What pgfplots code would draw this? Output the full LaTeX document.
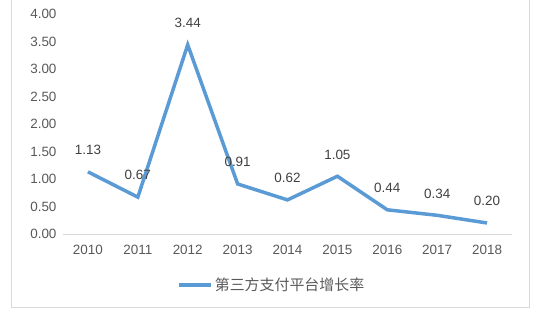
\documentclass[border=0pt]{standalone}
\usepackage{pgfplots}
\pgfplotsset{compat=1.18}
\usepackage{fontspec}
\setmainfont{Liberation Sans}
\newfontfamily\cjk{Noto Sans CJK SC}
\definecolor{lineblue}{HTML}{5B9BD5}
\definecolor{ticktxt}{HTML}{595959}
\definecolor{lbltxt}{HTML}{404040}
\definecolor{framegray}{HTML}{D9D9D9}
\begin{document}
\begin{tikzpicture}[x=1bp,y=1bp]
\useasboundingbox (0,0) rectangle (545,330);
\draw[framegray, line width=1bp] (11,23) rectangle (529,335);
\begin{axis}[
  at={(63bp,96bp)}, anchor=south west,
  scale only axis, width=449bp, height=220bp,
  xmin=-0.5, xmax=8.5, ymin=0, ymax=4,
  xtick={0,...,8},
  xticklabels={2010,2011,2012,2013,2014,2015,2016,2017,2018},
  ytick={0,0.5,...,4},
  yticklabel style={/pgf/number format/fixed, /pgf/number format/fixed zerofill, /pgf/number format/precision=2},
  /pgf/number format/assume math mode=true,
  tick label style={font=\fontsize{13.5}{15}\selectfont, text=ticktxt},
  axis line style={draw=none},
  axis x line*=bottom, axis y line*=left,
  major tick length=0pt,
  xticklabel style={yshift=-8bp},
  yticklabel style={xshift=-3bp},
  clip=false,
  legend style={at={(axis description cs:0.465,-0.232)}, anchor=center, draw=none, fill=none,
    font=\cjk\fontsize{15}{17}\selectfont, text=ticktxt},
  legend cell align=left,
  legend image code/.code={\draw[lineblue, line width=3.5bp] (0,0) -- (32bp,0);},
]
\draw[framegray, line width=1bp] (axis cs:-0.5,0) -- (axis cs:8.5,0);
\addplot[lineblue, line width=3.5bp, mark=none,
  nodes near coords,
  point meta=explicit symbolic,
  every node near coord/.append style={font=\fontsize{13.5}{15}\selectfont, text=lbltxt, yshift=12bp}]
  coordinates {
  (0,1.13) [1.13]
  (1,0.67) [0.67]
  (2,3.44) [3.44]
  (3,0.91) [0.91]
  (4,0.62) [0.62]
  (5,1.05) [1.05]
  (6,0.44) [0.44]
  (7,0.34) [0.34]
  (8,0.20) [0.20]
  };
\addlegendentry{第三方支付平台增长率}
\end{axis}
\end{tikzpicture}
\end{document}
